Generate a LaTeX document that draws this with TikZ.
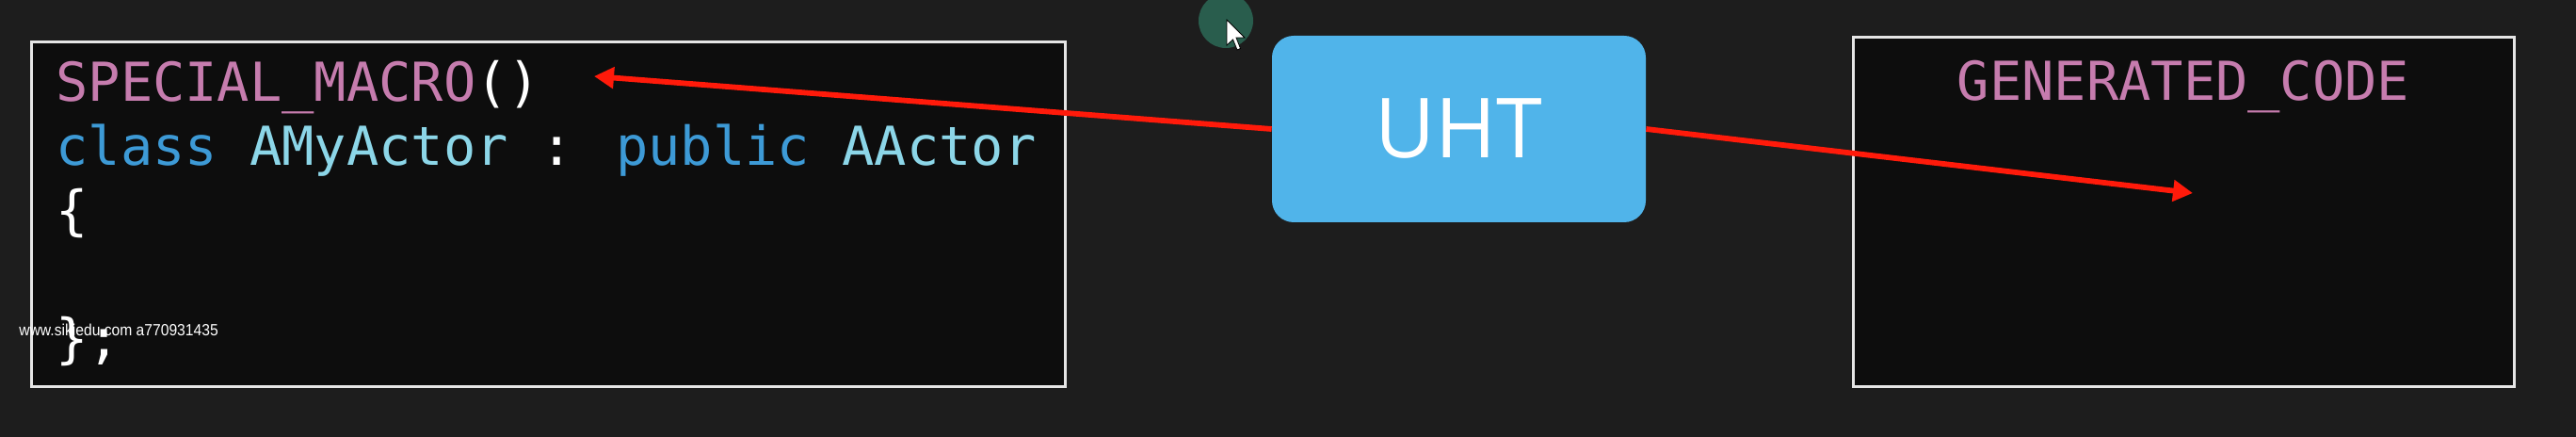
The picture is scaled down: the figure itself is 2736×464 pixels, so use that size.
\documentclass[tikz,border=0pt]{standalone}
\usepackage{fontspec}
\setmainfont{Open Sans}
\newfontfamily\codefont{DejaVu Sans Mono}
\newfontfamily\wmfont{Liberation Sans}
\usetikzlibrary{arrows.meta}
\definecolor{bgc}{HTML}{1D1D1D}
\definecolor{boxc}{HTML}{0D0D0D}
\definecolor{macroc}{HTML}{C67CAE}
\definecolor{keyc}{HTML}{3D9AD6}
\definecolor{typec}{HTML}{8CD6E8}
\definecolor{uhtc}{HTML}{50B4EA}
\definecolor{arrowc}{HTML}{FF1A0A}
\definecolor{cursorc}{HTML}{2C6E5A}
\tikzset{
  codebox/.style={draw=white!90!black, line width=1.5pt, fill=boxc},
  codeline/.style={anchor=base west, inner sep=0pt, font=\codefont\fontsize{28.5}{34}\selectfont, text=white},
  uhtbox/.style={fill=uhtc, rounded corners=11.5pt, minimum width=198.5pt, minimum height=99pt, inner sep=0pt,
    text=white, font=\fontsize{44}{50}\selectfont},
  redarrow/.style={draw=arrowc, line width=2.9pt, -{Triangle[length=10.5pt,width=11pt]}},
  watermark/.style={anchor=base west, inner sep=0pt, text=white, xscale=0.91, font=\wmfont\fontsize{8.6}{10}\selectfont}
}
\begin{document}
\begin{tikzpicture}[x=0.5pt,y=-0.5pt]
  % background
  \fill[bgc] (0,0) rectangle (2736,464);
  \useasboundingbox (0,0) rectangle (2736,464);
  % boxes
  \draw[codebox] (33,45) rectangle (1131,411);
  \draw[codebox] (1968,40) rectangle (2670,411);
  % code text
  \node[codeline] (macro) at (59,108) {\textcolor{macroc}{SPECIAL\_MACRO}()};
  \node[codeline] (classline) at (59,176) {\textcolor{keyc}{class} \textcolor{typec}{AMyActor} : \textcolor{keyc}{public} \textcolor{typec}{AActor}};
  \node[codeline] (openbrace) at (59,244) {\{};
  \node[codeline] (closebrace) at (59,380) {\};};
  \node[codeline, anchor=base] (gen) at (2319,107) {\textcolor{macroc}{GENERATED\_CODE}};
  % UHT
  \node[uhtbox] (uht) at (1549.5,137) {UHT};
  % arrow ends
  \coordinate (m1) at (631,81);
  \coordinate (m2) at (2329,205);
  \draw[redarrow] (uht.west) -- (m1);
  \draw[redarrow] (uht.east) -- (m2);
  % watermark
  \node[watermark] (wm) at (20,357) {www.sikiedu.com a770931435};
  % cursor
  \fill[cursorc, opacity=0.8] (1302,22) circle (29);
  \filldraw[fill=white, draw=black, line width=0.4pt]
    (1303,21) -- (1303,48) -- (1309.5,42) -- (1314,53) -- (1317.5,51.5) -- (1313,40) -- (1322,40) -- cycle;
\end{tikzpicture}
\end{document}
